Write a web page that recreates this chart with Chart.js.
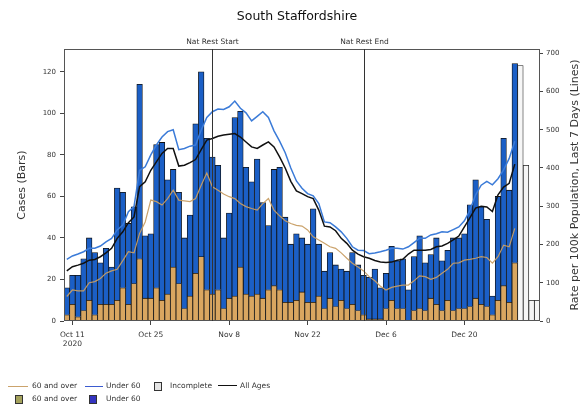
<!DOCTYPE html>
<html>
<head>
<meta charset="utf-8">
<script src="https://cdn.jsdelivr.net/npm/chart.js@4.4.0/dist/chart.umd.min.js"></script>
<style>
body { margin: 0; background: #fff; font-family: "DejaVu Sans", sans-serif; }
#wrap { position: relative; width: 584px; height: 411px; }
.it { position: absolute; white-space: nowrap; font-size: 7.5px; color: #333; line-height: 10px; }
.ln { position: absolute; height: 0; }
.bx { position: absolute; width: 6px; height: 7px; border: 1px solid #333; }
</style>
</head>
<body>
<div id="wrap">
  <canvas id="chart" width="584" height="411"></canvas>
  <div id="legend"></div>
</div>
<script>
// days from Oct 10 2020 to Jan 2 2021
const months = ["Oct", "Nov", "Dec", "Jan"];
const monthLen = [31, 30, 31, 31];
const days = [];
let m = 0, d = 10;
for (let k = 0; k < 85; k++) {
  days.push(months[m] + " " + d);
  d++;
  if (d > monthLen[m]) { d = 1; m++; }
}
const tickDates = ["Oct 11", "Oct 25", "Nov 8", "Nov 22", "Dec 6", "Dec 20"];
const restrictions = [["Nov 5", "Nat Rest Start"], ["Dec 2", "Nat Rest End"]];

// cases per day (bars)
const cases60 = [3, 8, 2, 5, 10, 3, 8, 8, 8, 10, 16, 8, 18, 30, 11, 11, 16, 10, 13, 26,
  18, 6, 12, 23, 31, 15, 13, 15, 6, 11, 12, 26, 13, 12, 13, 11, 15, 17, 15, 9,
  9, 10, 14, 9, 9, 12, 6, 11, 7, 10, 6, 8, 5, 3, 1, 1, 1, 6, 10, 6,
  6, 0, 5, 6, 5, 11, 8, 5, 10, 5, 6, 6, 7, 11, 8, 7, 3, 10, 17, 9,
  28, null, null, null, null];
const casesUnder60 = [13, 14, 20, 25, 30, 30, 20, 27, 18, 54, 46, 39, 37, 84, 30, 31, 69, 76, 55, 47,
  44, 34, 39, 72, 89, 73, 66, 60, 34, 41, 86, 75, 61, 55, 65, 46, 31, 56, 59, 41,
  28, 32, 26, 28, 45, 25, 18, 22, 20, 15, 18, 25, 22, 19, 20, 24, 15, 17, 26, 23,
  24, 15, 26, 35, 23, 21, 32, 24, 24, 35, 34, 36, 49, 57, 47, 42, 9, 50, 71, 54,
  96, null, null, null, null];
const casesIncomplete = [null, null, null, null, null, null, null, null, null, null,
  null, null, null, null, null, null, null, null, null, null,
  null, null, null, null, null, null, null, null, null, null,
  null, null, null, null, null, null, null, null, null, null,
  null, null, null, null, null, null, null, null, null, null,
  null, null, null, null, null, null, null, null, null, null,
  null, null, null, null, null, null, null, null, null, null,
  null, null, null, null, null, null, null, null, null, null,
  null, 123, 75, 10, 10];

// rate per 100k, last 7 days (lines)
const rate60 = [64, 81, 79, 79, 100, 103, 111, 125, 131, 135, 158, 181, 178, 229, 259, 316, 312, 303, 320, 342,
  316, 314, 312, 320, 355, 387, 351, 342, 332, 325, 320, 307, 299, 294, 290, 307, 320, 290, 275, 262,
  255, 250, 248, 238, 220, 212, 203, 194, 190, 178, 164, 151, 141, 131, 116, 105, 91, 81, 88, 91,
  94, 94, 105, 118, 116, 109, 114, 125, 135, 151, 152, 159, 161, 164, 168, 166, 151, 168, 198, 194,
  242, null, null, null, null];
const rateUnder60 = [161, 170, 175, 181, 190, 190, 196, 207, 216, 238, 251, 286, 299, 394, 403, 434, 460, 481, 495, 500,
  448, 451, 457, 460, 499, 532, 547, 554, 553, 560, 575, 556, 544, 523, 535, 547, 532, 497, 470, 440,
  400, 366, 347, 333, 327, 307, 259, 257, 246, 233, 216, 194, 185, 184, 176, 178, 181, 185, 190, 190,
  188, 194, 205, 216, 216, 225, 228, 233, 232, 239, 246, 262, 290, 330, 355, 365, 356, 372, 395, 425,
  470, null, null, null, null];
const rateAll = [131, 142, 146, 151, 159, 161, 168, 178, 190, 216, 233, 257, 272, 351, 364, 394, 416, 438, 451, 451,
  405, 407, 414, 422, 448, 473, 477, 483, 486, 488, 490, 481, 468, 455, 451, 460, 468, 455, 429, 400,
  365, 340, 333, 325, 320, 290, 248, 246, 236, 216, 203, 185, 175, 168, 164, 158, 154, 153, 154, 159,
  161, 175, 185, 185, 185, 187, 194, 196, 203, 212, 222, 246, 270, 295, 300, 298, 286, 330, 350, 360,
  410, null, null, null, null];

const txt = "#333";
const font = '"DejaVu Sans", sans-serif';

const decor = {
  id: "decor",
  afterDatasetsDraw(chart) {
    const { ctx, chartArea: a, scales } = chart;
    ctx.save();
    ctx.strokeStyle = "#555";
    ctx.lineWidth = 1;
    ctx.strokeRect(a.left + 0.5, a.top + 0.5, a.right - a.left - 1, a.bottom - a.top - 1);

    ctx.fillStyle = txt;
    ctx.textAlign = "center";
    ctx.textBaseline = "middle";
    ctx.font = "7.5px " + font;
    restrictions.forEach(([day, text]) => {
      const x = Math.round(scales.x.getPixelForValue(days.indexOf(day))) + 0.5;
      ctx.strokeStyle = "#333";
      ctx.beginPath();
      ctx.moveTo(x, a.top);
      ctx.lineTo(x, a.bottom);
      ctx.stroke();
      ctx.fillText(text, x, a.top - 7);
    });

    ctx.fillStyle = "#111";
    ctx.font = "12.5px " + font;
    ctx.fillText("South Staffordshire", 297, 17);

    ctx.fillStyle = txt;
    ctx.font = "11px " + font;
    const cy = (a.top + a.bottom) / 2;
    ctx.save();
    ctx.translate(22, cy);
    ctx.rotate(-Math.PI / 2);
    ctx.fillText("Cases (Bars)", 0, 0);
    ctx.restore();
    ctx.save();
    ctx.translate(575, cy);
    ctx.rotate(-Math.PI / 2);
    ctx.fillText("Rate per 100k Population, Last 7 Days (Lines)", 0, 0);
    ctx.restore();
    ctx.restore();
  }
};

const barStyle = { borderColor: "#111", borderWidth: 0.8, barPercentage: 1, categoryPercentage: 1, yAxisID: "y", stack: "cases", order: 1 };
const lineStyle = { type: "line", yAxisID: "y1", pointRadius: 0, tension: 0, order: 0, spanGaps: false };

new Chart(document.getElementById("chart"), {
  type: "bar",
  data: {
    labels: days,
    datasets: [
      { ...lineStyle, label: "All Ages", data: rateAll, borderColor: "#111", borderWidth: 1.5 },
      { ...lineStyle, label: "Under 60", data: rateUnder60, borderColor: "#3b7bd8", borderWidth: 1.5 },
      { ...lineStyle, label: "60 and over", data: rate60, borderColor: "rgba(200,158,100,0.95)", borderWidth: 1.2 },
      { ...barStyle, label: "60 and over", data: cases60, backgroundColor: "#d9a660" },
      { ...barStyle, label: "Under 60", data: casesUnder60, backgroundColor: "#1b5fc6" },
      { ...barStyle, label: "Incomplete", data: casesIncomplete, backgroundColor: "#f6f6f6", borderColor: "#222" }
    ]
  },
  options: {
    responsive: false,
    animation: false,
    devicePixelRatio: 1,
    layout: { padding: { top: 49, left: 0, right: 0, bottom: 0 } },
    plugins: { legend: { display: false }, tooltip: { enabled: false }, title: { display: false } },
    scales: {
      x: {
        stacked: true,
        offset: true,
        afterFit: s => { s.height = 90; },
        border: { display: false },
        grid: {
          offset: false, drawOnChartArea: false, drawTicks: true, tickLength: 4,
          color: c => tickDates.includes(days[c.index]) ? "#444" : "rgba(0,0,0,0)"
        },
        ticks: {
          autoSkip: false, maxRotation: 0, minRotation: 0, padding: 6,
          color: txt, font: { family: font, size: 7.5 },
          callback: (v, i) => {
            if (!tickDates.includes(days[i])) return "";
            return days[i] === "Oct 11" ? ["Oct 11", "2020"] : days[i];
          }
        }
      },
      y: {
        position: "left",
        stacked: true,
        min: 0, max: 131,
        afterFit: s => { s.width = 64; },
        afterBuildTicks: s => { s.ticks = s.ticks.filter(t => t.value % 20 === 0); },
        border: { display: false },
        grid: { drawOnChartArea: false, drawTicks: true, tickLength: 4, color: "#444" },
        ticks: { stepSize: 20, includeBounds: false, padding: 4, color: txt, font: { family: font, size: 7 } }
      },
      y1: {
        position: "right",
        min: 0, max: 711,
        afterFit: s => { s.width = 44; },
        afterBuildTicks: s => { s.ticks = s.ticks.filter(t => t.value % 100 === 0); },
        border: { display: false },
        grid: { drawOnChartArea: false, drawTicks: true, tickLength: 3, color: "#444" },
        ticks: { stepSize: 100, includeBounds: false, padding: 3, color: txt, font: { family: font, size: 7 } }
      }
    }
  },
  plugins: [decor]
});

// legend, laid out like the reference (two rows)
const legendItems = [
  { kind: "line", x: 8, w: 20, y: 386, color: "rgba(200,158,100,0.95)", lw: 1, text: "60 and over", tx: 32 },
  { kind: "line", x: 85, w: 18, y: 386, color: "#3b5bd0", lw: 1, text: "Under 60", tx: 106 },
  { kind: "box", x: 154, y: 386, color: "#e4e4e4", text: "Incomplete", tx: 170 },
  { kind: "line", x: 218, w: 19, y: 386, color: "#111", lw: 1.5, text: "All Ages", tx: 240 },
  { kind: "box", x: 15, y: 399, color: "#a4a25c", text: "60 and over", tx: 32 },
  { kind: "box", x: 89, y: 399, color: "#3434c0", text: "Under 60", tx: 106 }
];
const leg = document.getElementById("legend");
legendItems.forEach(it => {
  const mark = document.createElement("div");
  if (it.kind === "line") {
    mark.className = "ln";
    mark.style.left = it.x + "px";
    mark.style.width = it.w + "px";
    mark.style.top = (it.y - it.lw / 2) + "px";
    mark.style.borderTop = it.lw + "px solid " + it.color;
  } else {
    mark.className = "bx";
    mark.style.left = it.x + "px";
    mark.style.top = (it.y - 4.5) + "px";
    mark.style.background = it.color;
  }
  leg.appendChild(mark);
  const t = document.createElement("div");
  t.className = "it";
  t.style.left = it.tx + "px";
  t.style.top = (it.y - 5) + "px";
  t.textContent = it.text;
  leg.appendChild(t);
});
</script>
</body>
</html>
